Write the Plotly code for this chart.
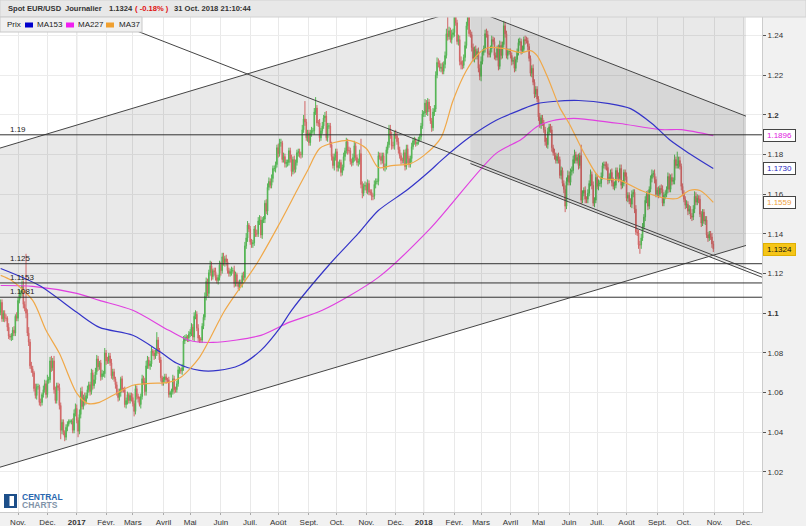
import pandas as pd
import plotly.graph_objects as go

# ---------------- DATA ----------------
# EUR/USD daily closes, pips above 1.0000, one trading day each (Mon..Fri), from 2016-10-10
close_pips = [
    1140, 1055, 1005, 1055, 972, 1000, 975, 975, 930, 885,
    880, 885, 915, 900, 985, 975, 1065, 1095, 1100, 1140,
    1045, 1025, 1000, 900, 855, 735, 720, 700, 620, 585,
    630, 630, 550, 550, 590, 615, 645, 590, 665, 665,
    760, 725, 760, 615, 560, 635, 625, 535, 410, 450,
    400, 375, 425, 440, 455, 455, 455, 410, 495, 520,
    460, 405, 490, 605, 530, 575, 555, 585, 615, 640,
    605, 700, 635, 665, 705, 770, 730, 750, 680, 695,
    695, 800, 760, 760, 785, 750, 685, 705, 670, 640,
    600, 575, 600, 670, 615, 615, 540, 560, 590, 560,
    585, 575, 545, 505, 620, 580, 570, 540, 580, 670,
    655, 605, 735, 765, 735, 745, 810, 800, 785, 800,
    865, 815, 765, 675, 650, 665, 680, 665, 665, 590,
    600, 605, 670, 615, 615, 645, 715, 715, 710, 725,
    860, 875, 880, 875, 895, 905, 930, 880, 985, 995,
    925, 875, 870, 865, 935, 980, 1085, 1160, 1100, 1205,
    1240, 1185, 1215, 1210, 1180, 1165, 1180, 1245, 1215, 1285,
    1255, 1275, 1260, 1215, 1200, 1210, 1215, 1215, 1150, 1195,
    1150, 1135, 1155, 1150, 1190, 1180, 1340, 1380, 1445, 1425,
    1360, 1350, 1355, 1425, 1400, 1400, 1465, 1470, 1395, 1470,
    1475, 1555, 1515, 1635, 1665, 1645, 1680, 1730, 1730, 1750,
    1835, 1805, 1860, 1860, 1775, 1790, 1755, 1760, 1760, 1820,
    1780, 1715, 1775, 1725, 1760, 1810, 1815, 1800, 1800, 1925,
    1980, 1965, 1885, 1910, 1860, 1910, 1920, 1920, 2015, 2035,
    1960, 1960, 1885, 1920, 1945, 1985, 1995, 1885, 1945, 1945,
    1850, 1790, 1745, 1785, 1815, 1735, 1745, 1760, 1710, 1735,
    1790, 1820, 1865, 1820, 1820, 1765, 1760, 1785, 1845, 1785,
    1760, 1765, 1805, 1650, 1605, 1640, 1645, 1620, 1655, 1610,
    1610, 1590, 1590, 1650, 1665, 1665, 1795, 1790, 1770, 1795,
    1735, 1740, 1825, 1850, 1930, 1895, 1845, 1845, 1905, 1895,
    1865, 1825, 1795, 1770, 1770, 1810, 1740, 1830, 1780, 1750,
    1780, 1840, 1870, 1875, 1855, 1860, 1880, 1890, 1945, 2005,
    2010, 2060, 2015, 2065, 2030, 1970, 1935, 2015, 2030, 2200,
    2265, 2260, 2235, 2240, 2220, 2255, 2300, 2410, 2395, 2425,
    2380, 2405, 2415, 2510, 2465, 2370, 2380, 2270, 2255, 2250,
    2290, 2350, 2450, 2505, 2410, 2405, 2340, 2285, 2330, 2295,
    2320, 2235, 2195, 2270, 2315, 2335, 2410, 2405, 2310, 2305,
    2335, 2380, 2370, 2300, 2290, 2335, 2245, 2350, 2300, 2355,
    2450, 2410, 2300, 2320, 2320, 2300, 2270, 2275, 2235, 2280,
    2320, 2365, 2370, 2325, 2330, 2380, 2375, 2375, 2345, 2285,
    2210, 2235, 2165, 2105, 2130, 2080, 1990, 1950, 1985, 1960,
    1925, 1865, 1850, 1915, 1940, 1925, 1835, 1810, 1795, 1770,
    1790, 1775, 1695, 1720, 1655, 1625, 1540, 1665, 1695, 1660,
    1715, 1720, 1775, 1800, 1770, 1785, 1745, 1795, 1570, 1605,
    1620, 1575, 1575, 1605, 1655, 1700, 1645, 1555, 1570, 1685,
    1640, 1655, 1655, 1690, 1745, 1750, 1745, 1735, 1670, 1685,
    1710, 1660, 1640, 1645, 1720, 1690, 1680, 1730, 1645, 1655,
    1710, 1690, 1580, 1595, 1565, 1550, 1600, 1610, 1525, 1410,
    1405, 1345, 1345, 1380, 1435, 1485, 1570, 1600, 1540, 1625,
    1680, 1700, 1705, 1675, 1600, 1620, 1600, 1630, 1625, 1555,
    1595, 1600, 1625, 1690, 1625, 1685, 1665, 1670, 1775, 1745,
    1750, 1770, 1740, 1640, 1605, 1575, 1545, 1550, 1515, 1525,
    1490, 1485, 1525, 1590, 1560, 1580, 1575, 1500, 1455, 1510,
    1465, 1470, 1395, 1380, 1400, 1385, 1350, 1324,
]
first_open = 1.1200
# upper / lower wick per day, base-36 digit x 5 pips (one string per week)
upper_wick = [
    "34333", "33424", "23342", "43535", "53046", "34325",
    "33242", "44353", "45353", "33433", "32332", "22345",
    "43545", "35343", "34354", "43234", "35343", "34332",
    "34423", "23332", "33434", "33234", "34543", "34233",
    "83232", "33323", "23433", "34324", "53323", "34344",
    "34323", "34433", "54234", "33434", "43433", "34353",
    "23333", "44542", "33334", "44543", "33444", "34333",
    "34442", "43333", "34343", "33335", "4i333", "3434b",
    "33434", "34533", "33343", "34333", "43434", "33453",
    "334f3", "34343", "33343", "34343", "33334", "44434",
    "34333", "33443", "34332", "12334", "24343", "33444",
    "54345", "345p4", "35454", "35454", "3444a", "43434",
    "34453", "34543", "34343", "34543", "54333", "33343",
    "34434", "34433", "33433", "33433", "33443", "34343",
    "34343", "34454", "34453", "343b3", "34343", "53434",
    "34343", "33444", "34543", "34443", "33433", "34334",
    "33444", "34343", "35343", "34344", "34343", "34353",
    "d4433", "33434", "33454", "43433", "34433", "343",
]
lower_wick = [
    "33433", "34343", "34433", "33343", "43534", "34433",
    "43343", "33434", "34343", "33494", "34342", "23333",
    "36343", "34333", "43434", "34343", "34433", "33434",
    "34343", "33443", "34353", "34243", "34433", "43343",
    "34343", "33433", "35343", "33434", "33344", "34343",
    "34433", "33434", "34343", "34353", "34433", "34343",
    "33434", "34343", "34433", "33434", "34343", "33434",
    "34343", "34443", "45343", "34343", "34343", "34343",
    "34433", "34343", "34353", "44343", "34343", "34343",
    "34345", "34343", "34434", "34343", "34343", "34343",
    "34343", "34353", "34343", "22343", "34343", "34343",
    "34343", "34343", "34343", "34454", "34343", "34343",
    "34453", "34343", "34343", "34343", "34343", "34343",
    "34343", "34343", "34343", "34343", "34343", "34343",
    "34343", "46343", "34343", "34343", "34443", "34343",
    "34343", "34343", "34343", "34343", "34343", "34343",
    "34943", "34343", "34343", "34343", "34343", "34343",
    "34343", "34343", "34343", "34343", "34343", "343",
]
high_override = {"2016-11-09": 1.1300}

ma153_dates = ["2016-10-13", "2016-11-23", "2017-01-02", "2017-01-25", "2017-03-01", "2017-03-30",
               "2017-04-17", "2017-05-10", "2017-05-30", "2017-06-21", "2017-07-13", "2017-08-02",
               "2017-08-15", "2017-09-25", "2017-10-24", "2017-11-14", "2017-12-13", "2018-01-08",
               "2018-01-18", "2018-02-16", "2018-03-16", "2018-04-12", "2018-04-30", "2018-05-16",
               "2018-06-12", "2018-07-13", "2018-08-06", "2018-08-28", "2018-09-17", "2018-10-05",
               "2018-10-31"]
ma153_vals = [1.1226, 1.1140, 1.1005, 1.0929, 1.0889, 1.0803, 1.0748, 1.0712, 1.0712, 1.0738,
              1.0813, 1.0924, 1.1015, 1.1251, 1.1403, 1.1518, 1.1619, 1.1720, 1.1770, 1.1886,
              1.1972, 1.2027, 1.2057, 1.2068, 1.2073, 1.2057, 1.2032, 1.1957, 1.1871, 1.1806,
              1.1730]
ma227_dates = ["2016-10-13", "2016-11-16", "2017-01-02", "2017-01-25", "2017-03-01", "2017-04-07",
               "2017-04-28", "2017-05-24", "2017-07-13", "2017-08-11", "2017-09-15", "2017-11-14",
               "2018-01-08", "2018-03-16", "2018-04-12", "2018-04-30", "2018-05-16", "2018-06-01",
               "2018-06-12", "2018-07-25", "2018-09-06", "2018-09-27", "2018-10-31"]
ma227_vals = [1.1140, 1.1136, 1.1100, 1.1065, 1.1015, 1.0914, 1.0864, 1.0853, 1.0889, 1.0954,
              1.1015, 1.1181, 1.1428, 1.1805, 1.1876, 1.1942, 1.1972, 1.1982, 1.1982, 1.1957,
              1.1926, 1.1926, 1.1896]
ma37_dates = ["2016-10-13", "2016-10-25", "2016-11-16", "2016-11-30", "2016-12-14", "2017-01-02",
              "2017-01-12", "2017-01-25", "2017-02-13", "2017-03-01", "2017-03-20", "2017-04-07",
              "2017-04-20", "2017-05-10", "2017-06-06", "2017-07-10", "2017-08-02", "2017-08-21",
              "2017-08-31", "2017-09-13", "2017-09-28", "2017-10-16", "2017-11-01", "2017-11-14",
              "2017-11-28", "2017-12-18", "2018-01-01", "2018-01-18", "2018-01-31", "2018-02-14",
              "2018-02-27", "2018-03-09", "2018-03-26", "2018-04-12", "2018-04-23", "2018-04-30",
              "2018-05-10", "2018-05-23", "2018-06-01", "2018-06-20", "2018-07-04", "2018-07-25",
              "2018-08-16", "2018-09-06", "2018-09-24", "2018-10-05", "2018-10-17", "2018-10-31"]
ma37_vals = [1.1191, 1.1166, 1.1065, 1.0914, 1.0798, 1.0597, 1.0546, 1.0551, 1.0597, 1.0637,
             1.0647, 1.0652, 1.0677, 1.0778, 1.1015, 1.1251, 1.1453, 1.1619, 1.1720, 1.1831,
             1.1861, 1.1871, 1.1831, 1.1735, 1.1745, 1.1755, 1.1795, 1.1886, 1.2073, 1.2224,
             1.2309, 1.2340, 1.2335, 1.2314, 1.2324, 1.2299, 1.2188, 1.2037, 1.1957, 1.1785,
             1.1685, 1.1670, 1.1619, 1.1584, 1.1579, 1.1619, 1.1619, 1.1559]

# trend lines (two anchor points each)
asc_lower = (["2016-10-12 12:00", "2018-12-04 12:00"], [1.0224, 1.1342])
asc_upper = (["2016-10-12 12:00", "2018-12-04 12:00"], [1.1833, 1.2961])
desc_lower = (["2016-10-12 12:00", "2018-12-20 12:00"], [1.2692, 1.1197])
desc_lower2 = (["2018-02-19", "2018-12-20 12:00"], [1.1755, 1.1182])
desc_upper = (["2018-02-19", "2018-12-04 12:00"], [1.2535, 1.1994])
desc_lower2_end = 1.1211  # value at 2018-12-04 12:00

hlevels = [1.19, 1.125, 1.1153, 1.1081]
hlabels = ["1.19", "1.125", "1.1153", "1.1081"]

month_ticks = ["2016-11-01", "2016-12-01", "2017-01-02", "2017-02-01", "2017-03-01", "2017-04-03",
               "2017-05-01", "2017-06-01", "2017-07-03", "2017-08-01", "2017-09-01", "2017-10-02",
               "2017-11-01", "2017-12-01", "2018-01-01", "2018-02-01", "2018-03-01", "2018-04-02",
               "2018-05-01", "2018-06-01", "2018-07-02", "2018-08-01", "2018-09-03", "2018-10-01",
               "2018-11-01", "2018-12-03"]
month_labels = ["Nov.", "Déc.", "<b>2017</b>", "Févr.", "Mars", "Avril", "Mai", "Juin", "Juil.",
                "Août", "Sept.", "Oct.", "Nov.", "Déc.", "<b>2018</b>", "Févr.", "Mars", "Avril",
                "Mai", "Juin", "Juil.", "Août", "Sept.", "Oct.", "Nov.", "Déc."]
y_ticks = [1.02, 1.04, 1.06, 1.08, 1.10, 1.12, 1.14, 1.16, 1.18, 1.20, 1.22, 1.24]
y_labels = ["1.02", "1.04", "1.06", "1.08", "<b>1.1</b>", "1.12", "1.14", "1.16", "1.18",
            "<b>1.2</b>", "1.22", "1.24"]

last_values = [(1.1896, "#e020e0", "white", "#444"), (1.1730, "#2828c0", "white", "#444"),
               (1.1559, "#eea040", "white", "#444"), (1.1324, "#111111", "#f5c518", "#e0b000")]

# ---------------- BUILD ----------------
dates = pd.bdate_range("2016-10-10", periods=len(close_pips))
closes = [1 + p / 10000 for p in close_pips]
opens = [first_open] + closes[:-1]
up = "".join(upper_wick)
dn = "".join(lower_wick)
highs = [max(o, c) + int(u, 36) * 0.0005 for o, c, u in zip(opens, closes, up)]
lows = [min(o, c) - int(d, 36) * 0.0005 for o, c, d in zip(opens, closes, dn)]
dl = list(dates)
for d, h in high_override.items():
    highs[dl.index(pd.Timestamp(d))] = h

W, H = 806, 526
L, R, T, B = 0, 44, 17, 14
PW, PH = W - L - R, H - T - B


def px(x):
    return (x - L) / PW


def py(y):
    return (H - B - y) / PH


FONT = "Liberation Sans"
fig = go.Figure()

# channel fills
fig.add_trace(go.Scatter(
    x=[asc_upper[0][0], asc_upper[0][1], asc_lower[0][1], asc_lower[0][0]],
    y=[asc_upper[1][0], asc_upper[1][1], asc_lower[1][1], asc_lower[1][0]],
    fill="toself", fillcolor="rgba(0,0,0,0.085)", line=dict(width=0), mode="lines",
    hoverinfo="skip"))
fig.add_trace(go.Scatter(
    x=[desc_upper[0][0], desc_upper[0][1], desc_upper[0][1], desc_lower2[0][0]],
    y=[desc_upper[1][0], desc_upper[1][1], desc_lower2_end, desc_lower2[1][0]],
    fill="toself", fillcolor="rgba(0,0,0,0.075)", line=dict(width=0), mode="lines",
    hoverinfo="skip"))

fig.add_trace(go.Candlestick(
    x=dates, open=opens, high=highs, low=lows, close=closes,
    increasing=dict(line=dict(color="#5cc65c", width=1), fillcolor="#5cc65c"),
    decreasing=dict(line=dict(color="#e57070", width=1), fillcolor="#e57070"),
    whiskerwidth=0, hoverinfo="skip"))

for dts, vals, col in [(ma227_dates, ma227_vals, "#e040e0"),
                       (ma153_dates, ma153_vals, "#3434c8"),
                       (ma37_dates, ma37_vals, "#f0a848")]:
    fig.add_trace(go.Scatter(x=dts, y=vals, mode="lines",
                             line=dict(color=col, width=1.2, shape="spline", smoothing=0.8),
                             hoverinfo="skip"))

for ln in [asc_lower, asc_upper, desc_lower, desc_lower2, desc_upper]:
    fig.add_trace(go.Scatter(x=ln[0], y=ln[1], mode="lines",
                             line=dict(color="#444444", width=1), hoverinfo="skip"))

shapes = []
# year lines
for d in ["2017-01-02", "2018-01-01"]:
    shapes.append(dict(type="line", xref="x", yref="paper", x0=d, x1=d, y0=0, y1=1,
                       line=dict(color="#c8c8c8", width=1), layer="below"))
for v in hlevels:
    shapes.append(dict(type="line", xref="paper", yref="y", x0=0, x1=1, y0=v, y1=v,
                       line=dict(color="#333333", width=1), layer="above"))
# header bar
shapes.append(dict(type="rect", xref="paper", yref="paper", x0=px(0), x1=px(W), y0=py(17), y1=py(0),
                   fillcolor="#e8e8e8", line=dict(color="#d2d2d2", width=1), layer="above"))
# legend box
shapes.append(dict(type="rect", xref="paper", yref="paper", x0=px(0), x1=px(142), y0=py(32), y1=py(17),
                   fillcolor="#f0f0f0", line=dict(color="#c8c8c8", width=1), layer="above"))
for x0, col in [(25, "#0000cc"), (66, "#f020f0"), (106, "#f0a030")]:
    shapes.append(dict(type="rect", xref="paper", yref="paper", x0=px(x0), x1=px(x0 + 8),
                       y0=py(27.5), y1=py(22.5), fillcolor=col, line=dict(width=0), layer="above"))
# logo icon
shapes.append(dict(type="rect", xref="paper", yref="paper", x0=px(4), x1=px(17), y0=py(508), y1=py(494),
                   fillcolor="#1d4f8a", line=dict(width=0), layer="above"))
shapes.append(dict(type="rect", xref="paper", yref="paper", x0=px(9.5), x1=px(14), y0=py(506), y1=py(496),
                   fillcolor="#ffffff", line=dict(width=0), layer="above"))

ann = []
for v, t in zip(hlevels, hlabels):
    ann.append(dict(xref="paper", yref="y", x=px(8), y=v, text=t, showarrow=False,
                    xanchor="left", yanchor="bottom", yshift=-1,
                    font=dict(family=FONT, size=8, color="#222")))
for t, x, col in [("<b>Spot EUR/USD</b>", 6, "#333"), ("<b>Journalier</b>", 63, "#333"),
                  ("<b>1.1324</b>", 107, "#333"), ("<b>( -0.18% )</b>", 133, "#e01010"),
                  ("<b>31 Oct. 2018 21:10:44</b>", 172, "#333")]:
    ann.append(dict(xref="paper", yref="paper", x=px(x), y=py(9), text=t, showarrow=False,
                    xanchor="left", yanchor="middle", font=dict(family=FONT, size=7.6, color=col)))
for t, x in [("Prix", 5), ("MA153", 35), ("MA227", 76), ("MA37", 117)]:
    ann.append(dict(xref="paper", yref="paper", x=px(x), y=py(25), text=t, showarrow=False,
                    xanchor="left", yanchor="middle", font=dict(family=FONT, size=8, color="#222")))
for v, fc, bg, bc in last_values:
    ann.append(dict(xref="paper", yref="y", x=px(763), y=v, text=f"{v:.4f}", showarrow=False,
                    xanchor="left", yanchor="middle", bgcolor=bg, bordercolor=bc, borderwidth=1,
                    borderpad=1, width=29, height=9, align="center",
                    font=dict(family=FONT, size=8, color=fc)))
ann.append(dict(xref="paper", yref="paper", x=px(20), y=py(497), text="<b>CENTRAL</b>", showarrow=False,
                xanchor="left", yanchor="middle", font=dict(family=FONT, size=8.5, color="#2a68b0")))
ann.append(dict(xref="paper", yref="paper", x=px(20), y=py(504.5), text="<b>CHARTS</b>", showarrow=False,
                xanchor="left", yanchor="middle", font=dict(family=FONT, size=8.5, color="#8193a8")))

fig.update_layout(
    width=W, height=H, margin=dict(l=L, r=R, t=T, b=B),
    paper_bgcolor="#f1f1f1", plot_bgcolor="#ffffff", showlegend=False,
    font=dict(family=FONT, size=8, color="#333"),
    shapes=shapes, annotations=ann, hovermode=False,
    xaxis=dict(type="date", range=["2016-10-12 12:00", "2018-12-20 12:00"],
               rangebreaks=[dict(bounds=["sat", "mon"])],
               tickvals=month_ticks, ticktext=month_labels, tickangle=0,
               tickfont=dict(family=FONT, size=8, color="#333"),
               showgrid=True, gridcolor="#e9e9e9", gridwidth=1,
               ticks="outside", ticklen=2, tickcolor="#aaaaaa",
               showline=True, linecolor="#cccccc", mirror=True, zeroline=False,
               rangeslider=dict(visible=False), fixedrange=True),
    yaxis=dict(side="right", range=[0.9998, 1.2494], tickvals=y_ticks, ticktext=y_labels,
               tickfont=dict(family=FONT, size=8, color="#333"),
               showgrid=True, gridcolor="#ececec", gridwidth=1,
               ticks="outside", ticklen=3, tickcolor="#555555",
               showline=True, linecolor="#cccccc", mirror=True, zeroline=False, fixedrange=True),
)

fig.write_html("out.html", config={"displayModeBar": False},
               post_script="document.body.style.margin='0';document.body.style.overflow='hidden';")
